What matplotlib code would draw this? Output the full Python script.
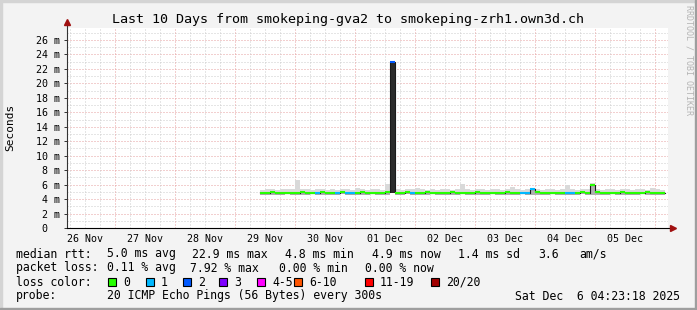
import numpy as np
import matplotlib.pyplot as plt
from matplotlib.patches import Rectangle

# ---- data (values in ms, one sample every 2 hours from 29 Nov 10:00) ----
hours = np.arange(82, 244, 2)  # hours since 26 Nov 00:00

median = [4.9, 4.9, 4.95, 4.9, 4.9, 4.9, 4.9, 4.9, 4.95, 4.9,
          4.9, 4.9, 4.95, 4.9, 4.9, 4.9, 4.95, 4.9, 4.9, 4.9,
          4.95, 4.9, 4.9, 4.9, 4.9, 4.95, 22.9, 4.9, 4.9, 4.95,
          4.9, 4.9, 4.9, 4.95, 4.9, 4.9, 4.9, 4.9, 4.95, 4.9,
          4.9, 4.9, 4.9, 4.95, 4.9, 4.9, 4.9, 4.9, 4.9, 4.95,
          4.9, 4.9, 4.9, 4.9, 5.35, 4.95, 4.9, 4.9, 4.9, 4.9,
          4.9, 4.9, 4.9, 4.9, 4.95, 4.9, 5.95, 4.95, 4.9, 4.9,
          4.9, 4.9, 4.95, 4.9, 4.9, 4.9, 4.9, 4.95, 4.9, 4.9,
          4.9]

smoke_hi = [5.3, 5.4, 5.35, 5.3, 5.4, 5.35, 5.45, 6.6, 5.4, 5.35,
            5.3, 5.4, 5.35, 5.3, 5.4, 5.3, 5.35, 5.45, 5.3, 5.5,
            5.35, 5.3, 5.4, 5.35, 5.3, 6.1, 22.9, 5.4, 5.3, 5.35,
            5.4, 5.6, 5.35, 5.3, 5.4, 5.3, 5.35, 5.4, 5.3, 5.35,
            6.1, 5.4, 5.3, 5.35, 5.45, 5.3, 5.4, 5.35, 5.3, 5.4,
            5.7, 5.35, 5.3, 5.4, 5.5, 5.35, 5.3, 5.4, 5.35, 5.3,
            5.4, 5.9, 5.35, 5.3, 5.4, 5.35, 6.2, 5.4, 5.3, 5.35,
            5.4, 5.3, 5.35, 5.4, 5.3, 5.35, 5.4, 5.3, 5.5, 5.35,
            5.3]

smoke_lo = [4.6, 4.6, 4.55, 4.6, 4.6, 4.65, 4.6, 4.55, 4.6, 4.6,
            4.65, 4.6, 4.6, 4.55, 4.6, 4.6, 4.65, 4.6, 4.6, 4.55,
            4.6, 4.6, 4.65, 4.6, 4.6, 4.55, 4.9, 4.6, 4.6, 4.65,
            4.6, 4.55, 4.6, 4.6, 4.65, 4.6, 4.6, 4.55, 4.6, 4.6,
            4.65, 4.6, 4.6, 4.55, 4.6, 4.6, 4.65, 4.6, 4.6, 4.55,
            4.6, 4.6, 4.65, 4.6, 4.6, 4.55, 4.6, 4.6, 4.65, 4.6,
            4.6, 4.55, 4.6, 4.6, 4.65, 4.6, 4.6, 4.55, 4.6, 4.6,
            4.65, 4.6, 4.6, 4.55, 4.6, 4.6, 4.65, 4.6, 4.6, 4.55,
            4.6]

loss = [0, 0, 0, 0, 0, 0, 0, 0, 0, 0,
        0, 1, 0, 0, 0, 1, 0, 1, 1, 0,
        0, 0, 0, 0, 0, 0, 2, 0, 0, 0,
        1, 0, 0, 0, 0, 0, 0, 0, 0, 0,
        0, 0, 0, 0, 0, 0, 0, 0, 0, 0,
        0, 0, 1, 1, 1, 0, 0, 0, 0, 0,
        0, 1, 1, 0, 0, 0, 0, 0, 0, 0,
        0, 0, 0, 0, 0, 0, 0, 0, 0, 0,
        0]

day_labels = ['26 Nov', '27 Nov', '28 Nov', '29 Nov', '30 Nov',
              '01 Dec', '02 Dec', '03 Dec', '04 Dec', '05 Dec']

loss_names = ['0', '1', '2', '3', '4-5', '6-10', '11-19', '20/20']
loss_colors = ['#26ff00', '#00b8ff', '#0059ff', '#7e00ff',
               '#ff00ff', '#ff5500', '#ff0000', '#a10000']

stat_rtt = ['5.0 ms avg', '22.9 ms max', '4.8 ms min', '4.9 ms now',
            '1.4 ms sd', '3.6', 'am/s']
stat_loss = ['0.11 % avg', '7.92 % max', '0.00 % min', '0.00 % now']

W, H = 697, 310
mono = 'DejaVu Sans Mono'

fig = plt.figure(figsize=(W / 100, H / 100), dpi=100, facecolor='#f3f3f3')

def fx(x):
    return x / W

def fy(y):
    return 1 - y / H

# frame
fig.patches.append(Rectangle((0, fy(2)), 1, 2 / H, transform=fig.transFigure, color='#d4d4d4', zorder=0))
fig.patches.append(Rectangle((0, 0), 2 / W, 1, transform=fig.transFigure, color='#d4d4d4', zorder=0))
fig.patches.append(Rectangle((0, 0), 1, 2 / H, transform=fig.transFigure, color='#9e9e9e', zorder=0))
fig.patches.append(Rectangle((fx(695), 0), 2 / W, 1, transform=fig.transFigure, color='#9e9e9e', zorder=0))

ax = fig.add_axes([fx(67), fy(228), 601 / W, 200 / H])
ax.set_facecolor('white')
t0, t1 = (67 - 55) / 60 * 24, (668 - 55) / 60 * 24
ax.set_xlim(t0, t1)
ax.set_ylim(0, 27.66)
for s in ax.spines.values():
    s.set_visible(False)

# grid
for v in range(1, 28):
    c = '#e6a0a0' if v % 2 == 0 else '#cccccc'
    ax.axhline(v, color=c, lw=0.72, dashes=(1, 2), zorder=0)
for h in range(6, 246, 6):
    if h <= t0:
        continue
    c = '#e6a0a0' if h % 24 == 0 else '#cccccc'
    ax.axvline(h, color=c, lw=0.72, dashes=(1, 2), zorder=0)

# smoke
edges = np.append(hours, hours[-1] + 2)
hi = np.append(smoke_hi, smoke_hi[-1])
lo = np.append(smoke_lo, smoke_lo[-1])
med = np.append(median, median[-1])
ax.fill_between(edges, np.minimum(med, hi), hi, step='post', color='#d9d9d9', lw=0, zorder=2)
ax.fill_between(edges, lo, np.minimum(med, hi), step='post', color='#b0b0b0', lw=0, zorder=2)
md, ld = np.array(median), np.array(smoke_lo)
big = (md - ld) > 5
ax.bar(hours[big], md[big] - ld[big], bottom=ld[big], width=2, align='edge',
       color='#2b2b2b', lw=0, zorder=3)

# median line coloured by loss
ax.step(edges, med, where='post', color='#1a1a1a', lw=0.8, zorder=4)
for i in range(len(hours)):
    ax.hlines(median[i], hours[i], hours[i] + 2, color=loss_colors[loss[i]], lw=1.5, zorder=5)

# ticks
yt = np.arange(0, 27, 2)
ax.set_yticks(yt, ['0  '] + ['%d m' % v for v in yt[1:]])
ax.tick_params(axis='y', length=2.2, width=0.7, pad=3, labelsize=7.2, color='#333333')
ax.set_xticks(np.arange(12, 240, 24), day_labels)
ax.tick_params(axis='x', length=0, pad=4, labelsize=7.2)
for lab in ax.get_xticklabels() + ax.get_yticklabels():
    lab.set_family(mono)

# axes with arrows
ax.plot([t0, t0], [0, 28.4], color='#333333', lw=0.8, clip_on=False, zorder=6)
ax.plot([t0, t1 + 1.6], [0, 0], color='#000000', lw=0.8, clip_on=False, zorder=6)
ax.plot([t0], [28.5], marker='^', ms=4.5, color='#a01010', clip_on=False, zorder=7)
ax.plot([t1 + 2.0], [0], marker='>', ms=4.5, color='#a01010', clip_on=False, zorder=7)

fig.text(fx(348), fy(19), 'Last 10 Days from smokeping-gva2 to smokeping-zrh1.own3d.ch',
         family=mono, fontsize=9.6, ha='center', va='center')
fig.text(fx(10), fy(127), 'Seconds', family=mono, fontsize=8, rotation=90, ha='center', va='center')
fig.text(fx(689), fy(5), 'RRDTOOL / TOBI OETIKER', family=mono, fontsize=6, color='#b4b4b4',
         rotation=270, ha='center', va='top')

# legend / stats
fs = 8.3
fig.text(fx(16), fy(254), 'median rtt:', family=mono, fontsize=fs, va='center')
for x, s in zip([107, 192, 285, 372, 458, 538, 579], stat_rtt):
    fig.text(fx(x), fy(254), s, family=mono, fontsize=fs, va='center')
fig.text(fx(16), fy(268), 'packet loss:', family=mono, fontsize=fs, va='center')
for x, s in zip([107, 190, 279, 365], stat_loss):
    fig.text(fx(x), fy(268), s, family=mono, fontsize=fs, va='center')
fig.text(fx(16), fy(282), 'loss color:', family=mono, fontsize=fs, va='center')
box_x = [108, 146, 183, 219, 257, 294, 365, 431]
for x, name, c in zip(box_x, loss_names, loss_colors):
    fig.patches.append(Rectangle((fx(x), fy(286)), 8 / W, 8 / H, transform=fig.transFigure,
                                 facecolor=c, edgecolor='black', lw=0.8))
    fig.text(fx(x + 15), fy(282), name, family=mono, fontsize=fs, va='center')
fig.text(fx(16), fy(296), 'probe:', family=mono, fontsize=fs, va='center')
fig.text(fx(107), fy(296), '20 ICMP Echo Pings (56 Bytes) every 300s', family=mono, fontsize=fs, va='center')
fig.text(fx(680), fy(296), 'Sat Dec  6 04:23:18 2025', family=mono, fontsize=fs, va='center', ha='right')

fig.savefig('out.png', dpi=100, facecolor=fig.get_facecolor())
